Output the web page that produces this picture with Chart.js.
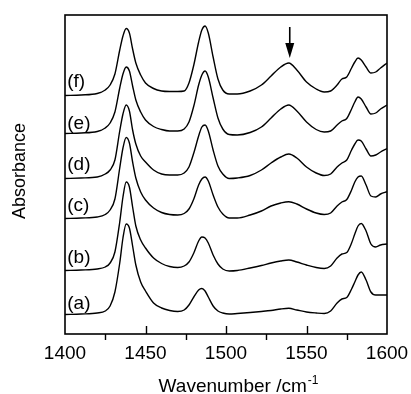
<!DOCTYPE html>
<html>
<head>
<meta charset="utf-8">
<script src="https://cdn.jsdelivr.net/npm/chart.js@4/dist/chart.umd.min.js"></script>
<style>
  html, body { margin: 0; padding: 0; background: #fff; }
  #wrap { width: 411px; height: 394px; position: relative; }
</style>
</head>
<body>
<div id="wrap"><canvas id="spectra"></canvas></div>
<script>
// wavenumber grid (cm-1) shared by all spectra
const wavenumbers = [1400,1410,1420,1425,1428,1431,1434,1436,1438,1440,1442,1444,1447,1450,1455,
  1460,1465,1470,1474,1477,1480,1483,1485,1487,1489,1492,1495,1498,1502,1507,
  1515,1522,1528,1534,1539,1544,1550,1556,1561,1565,1569,1572,1575,1578,1580,
  1582,1584,1587,1590,1593,1596,1600];

// absorbance (arbitrary units, already offset for stacking)
const specA = [19.5,20,21,23,28, 42,71,96,110,106, 88,69,52,43,31, 26,23.5,22.5,24,29,
  37,44,45.5,43,37, 28,23,21,20,20.5, 21.5,22.5,23.5,25,25.7, 24,22,21,20.5,23,
  31,35,36.5,45,52, 59,62,54,42,39, 39,39];
const specB = [63.5,64,65,67,71, 82,112,137,152,147, 127,108,94,86,76, 70.5,67.5,66.5,68,72,
  81,93,97,96,91, 79,70,65,63,63.5, 66,68.5,71,73,74, 72,69,66.5,65.5,68,
  76,80,81.5,91,100, 108,110.5,103,90,87, 89,90];
const specC = [115.5,116,117,119.5,124, 135,166,186,196.5,191, 172,156,142,134,126, 121.5,119.5,119,120.5,125,
  135,149,155,157,153, 139,127,120,116,116, 119,123,128,131,132.3, 130,125,121,119.5,121,
  128,132,134.5,144,152, 157,158,149,138,137, 140,142.3];
const specD = [155.5,156,157,160,164, 174,203,220,229,223, 204,190,178,172,164, 160,159,159,161,167,
  181,198,207,209,203, 184,168,160,155.5,156, 158.5,164,171,177,180, 176,167,161,158.5,160,
  167,171,174,184,190, 194,193,185,178,179, 182,185.5];
const specE = [200.5,201,202.5,206,211, 222,246,260,267,263, 248,234,222,214,207.5, 204.5,203,203,205,212,
  228,249,259,263,257, 236,216,205,199.5,199, 201.5,207,216,225,229, 223,212,204.5,202,203,
  209,213,215.5,225,232, 237,235,227,220,221, 225,229];
const specF = [238.5,239,240.5,244,249, 260,284,298,305.5,301, 285,271,259,251,245.5, 243,242.5,242.5,243,251,
  269,292,304,308,301, 277,255,244,240,240, 243,249,258,267,271, 264,252,245,242,243,
  249,255,257,266,272, 276,274,267,261,262, 266,271];

const curveNames = ['(a)', '(b)', '(c)', '(d)', '(e)', '(f)'];
const labelX = 1401.4;
const labelY = [30, 76, 128, 169, 210, 252];

const xTicks = [1400, 1450, 1500, 1550, 1600];
const majorTicks = [1450, 1500, 1550];
const minorTicks = [1425, 1475, 1525, 1575];

// arrow over the 1540 band: x, top of shaft, base of head, tip
const arrow = [1539.6, 307, 291, 276];

const allSpectra = [specA, specB, specC, specD, specE, specF];
const datasets = allSpectra.map(function(s, i) {
  return {
    label: curveNames[i],
    data: wavenumbers.map(function(w, j) { return {x: w, y: s[j]}; }),
    borderColor: '#000',
    borderWidth: 1.4,
    pointRadius: 0,
    fill: false,
    cubicInterpolationMode: 'monotone'
  };
});

const FONT = '"Liberation Sans", Arial, sans-serif';

const decor = {
  id: 'decor',
  afterDraw(chart) {
    const ctx = chart.ctx;
    const a = chart.chartArea;
    const x = chart.scales.x, y = chart.scales.y;
    ctx.save();
    ctx.strokeStyle = '#000';
    ctx.fillStyle = '#000';
    ctx.lineWidth = 1.6;
    ctx.strokeRect(a.left, a.top, a.right - a.left, a.bottom - a.top);

    ctx.lineWidth = 1.4;
    ctx.beginPath();
    majorTicks.forEach(function(v) {
      const px = Math.round(x.getPixelForValue(v)) + 0.5;
      ctx.moveTo(px, a.bottom); ctx.lineTo(px, a.bottom - 8);
    });
    minorTicks.forEach(function(v) {
      const px = Math.round(x.getPixelForValue(v)) + 0.5;
      ctx.moveTo(px, a.bottom); ctx.lineTo(px, a.bottom + 6);
    });
    ctx.stroke();

    // arrow
    const ax = x.getPixelForValue(arrow[0]);
    ctx.lineWidth = 1.6;
    ctx.beginPath();
    ctx.moveTo(ax, y.getPixelForValue(arrow[1]));
    ctx.lineTo(ax, y.getPixelForValue(arrow[2]) + 1);
    ctx.stroke();
    ctx.beginPath();
    ctx.moveTo(ax - 4.5, y.getPixelForValue(arrow[2]));
    ctx.lineTo(ax + 4.5, y.getPixelForValue(arrow[2]));
    ctx.lineTo(ax, y.getPixelForValue(arrow[3]));
    ctx.closePath();
    ctx.fill();

    // curve labels
    ctx.font = '19px ' + FONT;
    ctx.textAlign = 'left';
    ctx.textBaseline = 'middle';
    curveNames.forEach(function(n, i) {
      ctx.fillText(n, x.getPixelForValue(labelX), y.getPixelForValue(labelY[i]));
    });

    // x title with superscript
    ctx.textBaseline = 'alphabetic';
    ctx.font = '19px ' + FONT;
    const main = 'Wavenumber /cm';
    const w1 = ctx.measureText(main).width;
    ctx.font = '12px ' + FONT;
    const w2 = ctx.measureText('-1').width;
    const x0 = (a.left + a.right) / 2 + 12 - (w1 + w2) / 2;
    ctx.font = '19px ' + FONT;
    ctx.fillText(main, x0, 392);
    ctx.font = '12px ' + FONT;
    ctx.fillText('-1', x0 + w1 + 1, 384);

    // y title
    ctx.font = '18px ' + FONT;
    ctx.textAlign = 'center';
    ctx.translate(25, 171);
    ctx.rotate(-Math.PI / 2);
    ctx.fillText('Absorbance', 0, 0);
    ctx.restore();
  }
};

new Chart(document.getElementById('spectra'), {
  type: 'line',
  data: { datasets: datasets },
  options: {
    responsive: true,
    maintainAspectRatio: false,
    animation: false,
    layout: { padding: { left: 65, right: 24, top: 15, bottom: 0 } },
    plugins: { legend: { display: false }, tooltip: { enabled: false } },
    scales: {
      x: {
        type: 'linear',
        min: 1400,
        max: 1600,
        afterBuildTicks: function(s) { s.ticks = xTicks.map(function(v) { return {value: v}; }); },
        afterFit: function(s) {
          s.height = 60;
          s.paddingLeft = 0;
          s.paddingRight = 0;
        },
        grid: { display: false, drawTicks: false },
        border: { display: false },
        ticks: {
          color: '#000',
          font: { family: FONT, size: 19 },
          padding: 8,
          maxRotation: 0,
          autoSkip: false,
          callback: function(v) { return String(v); }
        }
      },
      y: {
        display: false,
        min: 0,
        max: 319
      }
    }
  },
  plugins: [decor]
});
</script>
</body>
</html>
